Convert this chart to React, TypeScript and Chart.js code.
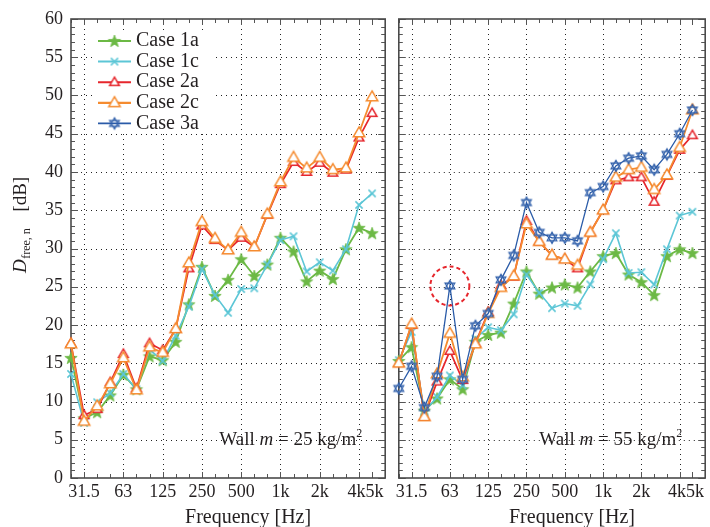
import React, { useEffect, useRef } from 'react';
import { Chart, registerables } from 'chart.js';

Chart.register(...registerables);

// ---------- data ----------
const bands = ['25', '31.5', '40', '50', '63', '80', '100', '125', '160', '200', '250', '315', '400', '500', '630', '800', '1k', '1.25k', '1.6k', '2k', '2.5k', '3.15k', '4k', '5k'];
const labeledBands = ['31.5', '63', '125', '250', '500', '1k', '2k', '4k', '5k'];
const gridBands = ['31.5', '63', '125', '250', '500', '1k', '2k', '4k'];
const yTickValues = [0, 5, 10, 15, 20, 25, 30, 35, 40, 45, 50, 55, 60];

const seriesNames = ['Case 1a', 'Case 1c', 'Case 2a', 'Case 2c', 'Case 3a'];

// Wall m = 25 kg/m2
const case1a_m25 = [15.7, 7.8, 8.6, 10.8, 13.5, 11.6, 15.9, 15.4, 17.8, 22.7, 27.6, 23.8, 25.9, 28.6, 26.4, 27.9, 31.4, 29.6, 25.7, 27.1, 26.0, 29.9, 32.7, 32.0];
const case1c_m25 = [13.6, 7.2, 9.9, 11.1, 13.6, 11.6, 16.8, 15.3, 18.6, 22.4, 27.3, 23.9, 21.6, 24.7, 24.8, 27.9, 31.1, 31.6, 27.0, 28.2, 27.1, 29.9, 35.7, 37.2];
const case2a_m25 = [17.6, 8.2, 9.0, 12.5, 16.2, 11.7, 17.6, 16.7, 19.5, 27.4, 33.0, 31.1, 29.8, 31.4, 30.2, 34.4, 38.4, 41.3, 40.0, 41.2, 39.9, 40.3, 44.5, 47.7];
const case2c_m25 = [17.5, 7.4, 9.4, 12.3, 15.7, 11.5, 17.1, 16.4, 19.5, 28.1, 33.5, 31.3, 29.8, 32.1, 30.2, 34.5, 38.7, 41.9, 40.5, 41.9, 40.3, 40.5, 45.1, 49.8];

// Wall m = 55 kg/m2
const case1a_m55 = [15.3, 17.1, 8.8, 10.4, 12.9, 11.6, 17.8, 18.7, 19.0, 22.8, 27.0, 24.1, 24.9, 25.3, 24.9, 27.0, 29.0, 29.4, 26.6, 25.6, 23.9, 29.0, 29.9, 29.4];
const case1c_m55 = [15.4, 19.1, 8.7, 10.6, 13.4, 12.1, 18.2, 19.7, 19.3, 21.4, 26.6, 24.2, 22.2, 22.8, 22.5, 25.3, 28.6, 32.0, 26.8, 26.9, 25.3, 29.9, 34.3, 34.8];
const case2a_m55 = [15.0, 20.0, 8.0, 12.6, 16.6, 12.8, 17.6, 21.7, 25.2, 26.3, 33.6, 30.9, 29.1, 28.6, 27.4, 32.1, 35.0, 38.9, 39.3, 39.3, 36.1, 39.5, 42.9, 44.8];
const case2c_m55 = [15.0, 20.1, 8.0, 13.6, 18.9, 13.2, 17.5, 21.5, 24.9, 26.4, 33.2, 30.9, 29.1, 28.6, 27.8, 32.1, 35.0, 39.3, 40.3, 40.6, 37.7, 39.6, 43.2, 48.1];
const case3a_m55 = [11.7, 14.6, 9.2, 13.3, 25.1, 12.9, 19.9, 21.5, 25.9, 29.1, 36.0, 32.1, 31.4, 31.4, 31.0, 37.3, 38.1, 40.8, 41.8, 42.1, 40.3, 42.3, 45.0, 48.1];

const highlightBand = '63';
const highlightValue = case3a_m55[4];

// ---------- styles ----------
const seriesColors = ['#6cb945', '#5cc6d6', '#e6262c', '#f58b2f', '#2a5ba8'];
const seriesMarkers = ['star', 'x', 'tri', 'triL', 'hex'];
const seriesWidths = [1.8, 1.6, 1.7, 1.8, 1.3];
const SERIF = "'Liberation Serif', 'Times New Roman', serif";
const TEXT = '#231f20';

function triPath(g: CanvasRenderingContext2D, cx: number, cy: number, r: number, up: boolean) {
  const s = up ? 1 : -1;
  g.moveTo(cx, cy - s * r);
  g.lineTo(cx + r * 0.866, cy + s * r / 2);
  g.lineTo(cx - r * 0.866, cy + s * r / 2);
  g.closePath();
}

function makeMarker(kind: string, color: string): HTMLCanvasElement {
  const size = 16;
  const c = document.createElement('canvas');
  c.width = size;
  c.height = size;
  const g = c.getContext('2d')!;
  const cx = size / 2, cy = size / 2;
  g.strokeStyle = color;
  g.fillStyle = color;
  if (kind === 'star') {
    g.beginPath();
    for (let k = 0; k < 10; k++) {
      const r = k % 2 === 0 ? 6.5 : 2.7;
      const a = -Math.PI / 2 + (k * Math.PI) / 5;
      const px = cx + r * Math.cos(a), py = cy + 0.5 + r * Math.sin(a);
      if (k === 0) g.moveTo(px, py); else g.lineTo(px, py);
    }
    g.closePath();
    g.fill();
    g.lineWidth = 0.7;
    g.stroke();
  } else if (kind === 'x') {
    const r = 3.6;
    g.lineWidth = 1.5;
    g.beginPath();
    g.moveTo(cx - r, cy - r); g.lineTo(cx + r, cy + r);
    g.moveTo(cx + r, cy - r); g.lineTo(cx - r, cy + r);
    g.stroke();
  } else if (kind === 'tri' || kind === 'triL') {
    const r = kind === 'tri' ? 5.6 : 6.6;
    g.lineWidth = 1.5;
    g.fillStyle = '#ffffff';
    g.beginPath();
    triPath(g, cx, cy + 0.5, r, true);
    g.fill();
    g.stroke();
  } else if (kind === 'hex') {
    const r = 5.6;
    g.lineWidth = 1.2;
    g.fillStyle = '#ffffff';
    g.beginPath();
    triPath(g, cx, cy, r, true);
    triPath(g, cx, cy, r, false);
    g.fill();
    g.stroke();
  }
  return c;
}

function drawWall(ctx: CanvasRenderingContext2D, rightX: number, baseY: number, mass: string) {
  const big = `19px ${SERIF}`;
  const ital = `italic 19px ${SERIF}`;
  const sup = `12px ${SERIF}`;
  const parts: [string, string, number][] = [
    ['Wall ', big, 0],
    ['m', ital, 0],
    [` = ${mass} kg/m`, big, 0],
    ['2', sup, -8],
  ];
  let total = 0;
  for (const p of parts) { ctx.font = p[1]; total += ctx.measureText(p[0]).width; }
  let x = rightX - total;
  ctx.fillStyle = TEXT;
  ctx.textAlign = 'left';
  ctx.textBaseline = 'alphabetic';
  for (const p of parts) {
    ctx.font = p[1];
    ctx.fillText(p[0], x, baseY + p[2]);
    x += ctx.measureText(p[0]).width;
  }
}

const panelPlugin = {
  id: 'panel',
  beforeDatasetsDraw(chart: any, _args: any, opts: any) {
    const { ctx, chartArea: a, scales } = chart;
    const x = scales.x, y = scales.y;
    ctx.save();
    // dotted grid
    ctx.strokeStyle = '#222';
    ctx.lineWidth = 1;
    ctx.setLineDash([1, 4]);
    ctx.beginPath();
    for (const v of yTickValues) {
      if (v === 0 || v === 60) continue;
      const py = Math.round(y.getPixelForValue(v)) + 0.5;
      ctx.moveTo(a.left, py);
      ctx.lineTo(a.right, py);
    }
    for (const b of gridBands) {
      const px = Math.round(x.getPixelForValue(bands.indexOf(b))) + 0.5;
      ctx.moveTo(px, a.top);
      ctx.lineTo(px, a.bottom);
    }
    ctx.stroke();
    ctx.setLineDash([]);
    // inward tick marks
    ctx.strokeStyle = '#555';
    ctx.lineWidth = 1;
    ctx.beginPath();
    for (let i = 0; i <= 24; i++) {
      const px = Math.round(x.getPixelForValue(i)) + 0.5;
      const len = labeledBands.includes(bands[i]) ? 6 : 4;
      ctx.moveTo(px, a.top); ctx.lineTo(px, a.top + len);
      ctx.moveTo(px, a.bottom); ctx.lineTo(px, a.bottom - len);
    }
    for (let v = 0; v <= 60; v++) {
      const py = Math.round(y.getPixelForValue(v)) + 0.5;
      const len = v % 5 === 0 ? 7 : 4;
      ctx.moveTo(a.left, py); ctx.lineTo(a.left + len, py);
      ctx.moveTo(a.right, py); ctx.lineTo(a.right - len, py);
    }
    ctx.stroke();
    // frame
    ctx.strokeStyle = '#4a4a4a';
    ctx.lineWidth = 1.6;
    ctx.strokeRect(a.left, a.top, a.right - a.left, a.bottom - a.top);
    ctx.restore();
  },
  afterDraw(chart: any, _args: any, opts: any) {
    const { ctx, chartArea: a, scales } = chart;
    const x = scales.x, y = scales.y;
    ctx.save();
    // x tick labels
    ctx.fillStyle = TEXT;
    ctx.font = `18px ${SERIF}`;
    ctx.textBaseline = 'alphabetic';
    const p4 = x.getPixelForValue(bands.indexOf('4k'));
    const p5 = x.getPixelForValue(bands.indexOf('5k'));
    const mid = (p4 + p5) / 2;
    for (const b of labeledBands) {
      const px = x.getPixelForValue(bands.indexOf(b));
      if (b === '4k') { ctx.textAlign = 'right'; ctx.fillText(b, mid, a.bottom + 19); }
      else if (b === '5k') { ctx.textAlign = 'left'; ctx.fillText(b, mid, a.bottom + 19); }
      else { ctx.textAlign = 'center'; ctx.fillText(b, px, a.bottom + 19); }
    }
    // x title
    ctx.textAlign = 'center';
    ctx.font = `20px ${SERIF}`;
    ctx.fillText('Frequency [Hz]', (a.left + a.right) / 2 + 20, 523);

    // wall annotation
    drawWall(ctx, a.right - 23, 445, opts.mass);

    // y title
    if (opts.yTitle) {
      ctx.save();
      ctx.translate(26, 273);
      ctx.rotate(-Math.PI / 2);
      ctx.textAlign = 'left';
      ctx.fillStyle = TEXT;
      ctx.font = `italic 19px ${SERIF}`;
      ctx.fillText('D', 0, 0);
      const wD = ctx.measureText('D').width;
      ctx.font = `12px ${SERIF}`;
      ctx.fillText('free, n', wD + 0.5, 4);
      const wS = ctx.measureText('free, n').width;
      ctx.font = `19px ${SERIF}`;
      ctx.fillText('[dB]', wD + wS + 17, 0);
      ctx.restore();
    }

    // legend
    if (opts.legend) {
      const ds = chart.data.datasets;
      const bx = a.left + 24;
      ctx.fillStyle = '#ffffff';
      ctx.fillRect(bx, 30, 118, 104);
      ctx.font = `20px ${SERIF}`;
      ctx.textBaseline = 'middle';
      ctx.textAlign = 'left';
      for (let i = 0; i < seriesNames.length; i++) {
        const ry = 41 + i * 20.6;
        ctx.strokeStyle = seriesColors[i];
        ctx.lineWidth = seriesWidths[i] + 0.4;
        ctx.beginPath();
        ctx.moveTo(a.left + 27, ry);
        ctx.lineTo(a.left + 60, ry);
        ctx.stroke();
        const mk = opts.markers[i] as HTMLCanvasElement;
        ctx.drawImage(mk, a.left + 43.5 - mk.width / 2, ry - mk.height / 2);
        ctx.fillStyle = TEXT;
        ctx.fillText(seriesNames[i], a.left + 65, ry);
      }
    }

    // highlight circle
    if (opts.circle) {
      const cx = x.getPixelForValue(bands.indexOf(highlightBand));
      const cy = y.getPixelForValue(highlightValue);
      ctx.strokeStyle = '#e6262c';
      ctx.lineWidth = 2;
      ctx.setLineDash([4, 3]);
      ctx.beginPath();
      ctx.arc(cx, cy, 19.5, 0, Math.PI * 2);
      ctx.stroke();
      ctx.setLineDash([]);
    }
    ctx.restore();
  },
};

function buildConfig(seriesValues: number[][], seriesIdx: number[], panel: any, markers: HTMLCanvasElement[]): any {
  return {
    type: 'line',
    data: {
      datasets: seriesValues.map((vals, k) => {
        const i = seriesIdx[k];
        return {
          label: seriesNames[i],
          data: vals.map((v, j) => ({ x: j, y: v })),
          borderColor: seriesColors[i],
          backgroundColor: seriesColors[i],
          borderWidth: seriesWidths[i],
          pointStyle: markers[i],
          pointRadius: 5,
          pointHoverRadius: 5,
          order: 10 - i,
          clip: false,
          tension: 0,
          fill: false,
        };
      }),
    },
    options: {
      responsive: false,
      animation: false,
      events: [],
      layout: { padding: { top: 19, right: panel.padRight, left: 0, bottom: 0 } },
      plugins: {
        legend: { display: false },
        tooltip: { enabled: false },
        panel: { mass: panel.mass, legend: panel.legend, yTitle: panel.yTitle, circle: panel.circle, markers },
      },
      scales: {
        x: {
          type: 'linear', min: 0, max: 24,
          grid: { display: false, drawTicks: false },
          border: { display: false },
          ticks: { display: false },
          afterFit: (s: any) => { s.height = 49; },
        },
        y: {
          type: 'linear', min: 0, max: 60,
          ticks: { display: panel.showY, stepSize: 5, padding: 8, color: TEXT, font: { family: SERIF, size: 18 } },
          grid: { display: false, drawTicks: false },
          border: { display: false },
          afterFit: (s: any) => { s.width = panel.yWidth; },
        },
      },
    },
    plugins: [panelPlugin],
  };
}

export default function App() {
  const leftRef = useRef<HTMLCanvasElement>(null);
  const rightRef = useRef<HTMLCanvasElement>(null);

  useEffect(() => {
    const markers = seriesMarkers.map((m, i) => makeMarker(m, seriesColors[i]));
    const left = new Chart(leftRef.current!, buildConfig(
      [case1a_m25, case1c_m25, case2a_m25, case2c_m25], [0, 1, 2, 3],
      { padRight: 5, yWidth: 71, showY: true, mass: '25', legend: true, yTitle: true, circle: false }, markers));
    const right = new Chart(rightRef.current!, buildConfig(
      [case1a_m55, case1c_m55, case2a_m55, case2c_m55, case3a_m55], [0, 1, 2, 3, 4],
      { padRight: 1, yWidth: 4, showY: false, mass: '55', legend: false, yTitle: false, circle: true }, markers));
    return () => { left.destroy(); right.destroy(); };
  }, []);

  return (
    <div style={{ position: 'fixed', left: 0, top: 0, width: 710, height: 527, overflow: 'hidden', background: '#fff' }}>
      <canvas ref={leftRef} width={392} height={527} style={{ position: 'absolute', left: 0, top: 0, width: 392, height: 527 }} />
      <canvas ref={rightRef} width={320} height={527} style={{ position: 'absolute', left: 392, top: 0, width: 320, height: 527 }} />
    </div>
  );
}
